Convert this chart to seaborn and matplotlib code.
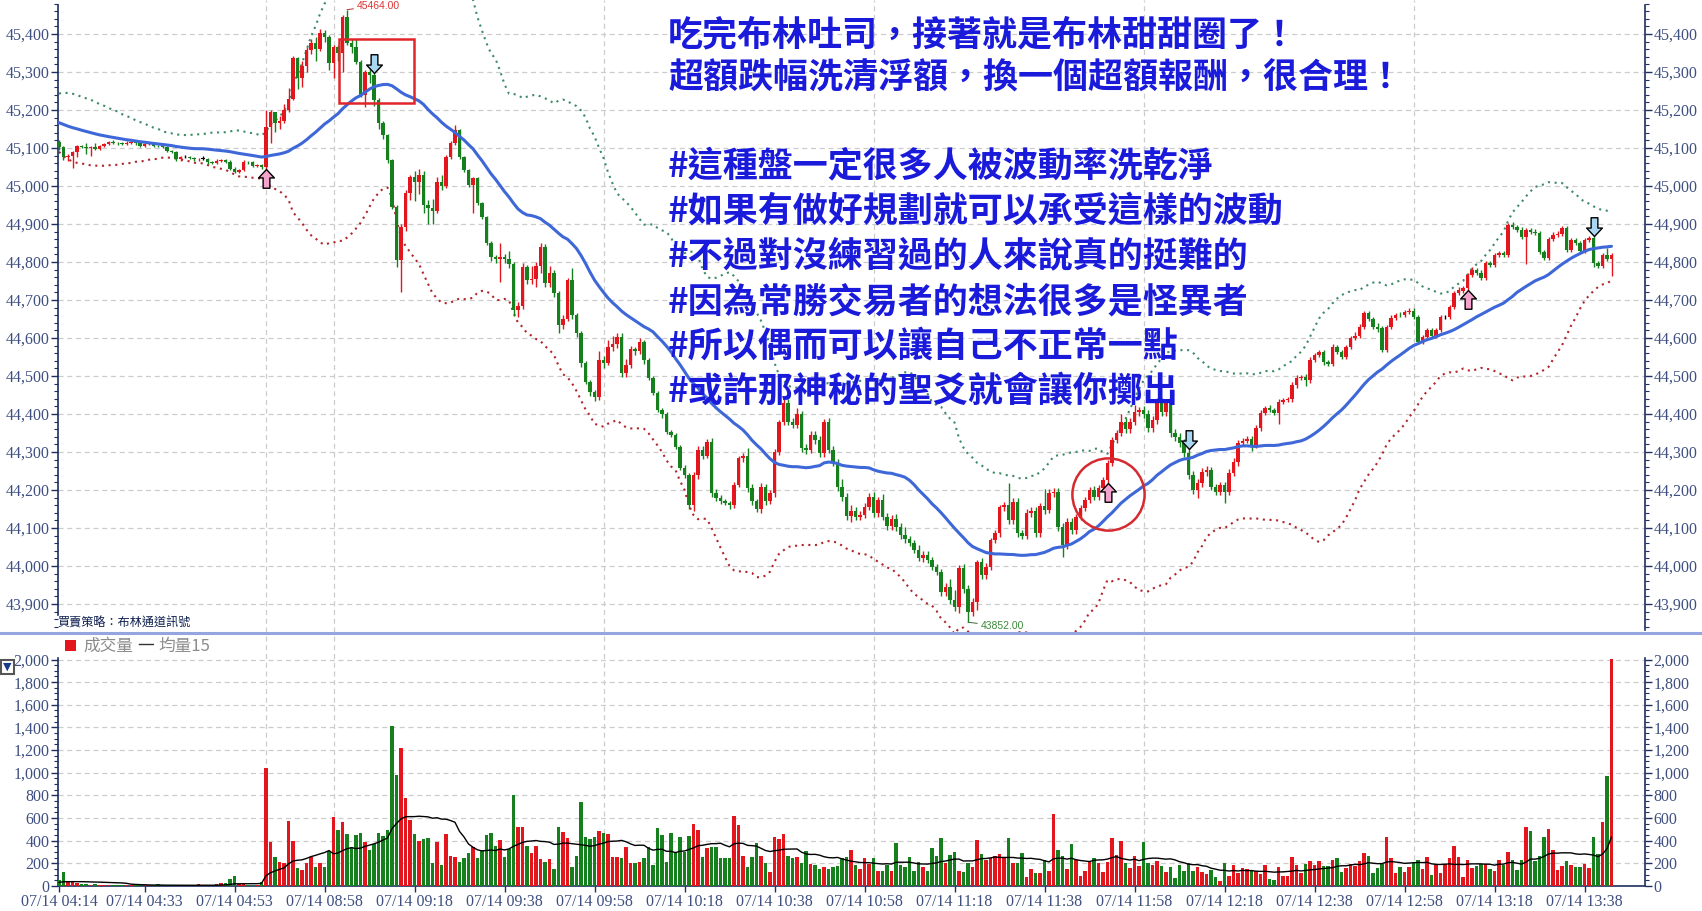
import numpy as np
import pandas as pd
import matplotlib
matplotlib.use("Agg")
import matplotlib.pyplot as plt
import seaborn as sns
from matplotlib.path import Path
from matplotlib.patches import Rectangle
from matplotlib.lines import Line2D
from matplotlib.ticker import FuncFormatter, MultipleLocator, FixedLocator

# ---- datos (1 barra = 1 minuto) ----
first_open = 45116

# sesion nocturna 04:14 - 04:59
night_close = [
    45102, 45076, 45080, 45090, 45104, 45103, 45100, 45102, 45098, 45106,
    45110, 45116, 45114, 45112, 45111, 45114, 45116, 45112, 45106, 45110,
    45111, 45106, 45105, 45102, 45092, 45090, 45070, 45076, 45076, 45074,
    45070, 45072, 45072, 45062, 45060, 45066, 45068, 45064, 45046, 45038,
    45042, 45064, 45062, 45052, 45054, 45050]

# sesion diurna 08:45 - 13:44
day_close = [
    45155, 45195, 45165, 45172, 45200, 45230, 45337, 45285, 45315, 45358,
    45376, 45360, 45402, 45392, 45324, 45366, 45350, 45445, 45376, 45365,
    45326, 45240, 45300, 45292, 45226, 45166, 45134, 45068, 44945, 44805,
    44892, 44982, 45024, 45010, 45030, 44950, 44942, 44935, 45010, 45000,
    45076, 45113, 45147, 45076, 45042, 45003, 45020, 44955, 44918, 44850,
    44813, 44808, 44812, 44808, 44795, 44674, 44685, 44787, 44753, 44755,
    44790, 44840, 44745, 44770, 44718, 44634, 44650, 44753, 44660, 44613,
    44534, 44484, 44458, 44445, 44542, 44535, 44576, 44585, 44603, 44508,
    44530, 44570, 44565, 44589, 44542, 44495, 44455, 44410, 44400, 44353,
    44345, 44313, 44258, 44240, 44161, 44239, 44305, 44290, 44326, 44192,
    44180, 44170, 44166, 44160, 44213, 44284, 44290, 44205, 44170, 44150,
    44208, 44170, 44192, 44300, 44379, 44429, 44380, 44372, 44400, 44311,
    44305, 44345, 44332, 44297, 44379, 44305, 44274, 44208, 44182, 44132,
    44145, 44130, 44135, 44155, 44182, 44139, 44174, 44130, 44105, 44125,
    44103, 44082, 44070, 44060, 44042, 44021, 44030, 44016, 43997, 43984,
    43932, 43945, 43911, 43892, 43995, 43940, 43879, 43905, 44011, 43976,
    43997, 44068, 44087, 44155, 44160, 44121, 44168, 44087, 44080, 44139,
    44145, 44087, 44158, 44147, 44192, 44195, 44103, 44055, 44116, 44095,
    44129, 44153, 44174, 44200, 44182, 44205, 44226, 44271, 44332, 44350,
    44379, 44360, 44380, 44405, 44410, 44400, 44363, 44384, 44432, 44405,
    44430, 44350, 44340, 44324, 44297, 44239, 44200, 44218, 44247, 44253,
    44208, 44195, 44213, 44195, 44245, 44274, 44324, 44330, 44335, 44318,
    44363, 44403, 44416, 44410, 44403, 44432, 44437, 44440, 44476, 44495,
    44497, 44490, 44542, 44555, 44562, 44536, 44532, 44576, 44563, 44550,
    44576, 44600, 44605, 44629, 44666, 44650, 44630, 44625, 44568, 44629,
    44653, 44661, 44660, 44668, 44672, 44655, 44590, 44603, 44621, 44605,
    44621, 44655, 44655, 44682, 44718, 44725, 44732, 44766, 44779, 44772,
    44758, 44797, 44792, 44818, 44824, 44818, 44897, 44892, 44885, 44866,
    44884, 44880, 44876, 44826, 44811, 44860, 44871, 44875, 44889, 44832,
    44858, 44850, 44830, 44858, 44862, 44797, 44790, 44818, 44808, 44818]

# mechas (puntos por encima / por debajo del cuerpo)
night_upper_wick = [
    4, 2, 5, 2, 4, 5, 10, 2, 10, 3, 3, 3, 4, 3, 3, 4, 3, 3, 3, 3,
    3, 3, 3, 3, 3, 4, 3, 3, 6, 3, 3, 3, 6, 3, 3, 4, 3, 3, 4, 3,
    4, 4, 3, 3, 3, 3]
night_lower_wick = [
    7, 8, 10, 33, 14, 3, 16, 20, 3, 3, 3, 3, 3, 3, 3, 3, 3, 3, 3, 3,
    3, 3, 3, 3, 3, 3, 4, 3, 3, 3, 3, 3, 3, 4, 3, 3, 3, 3, 4, 4,
    4, 3, 3, 3, 3, 4]
day_upper_wick = [
    45, 5, 0, 13, 15, 28, 5, 3, 15, 7, 12, 16, 10, 8, 6, 6, 6, 5, 19, 10,
    22, 5, 5, 18, 6, 6, 4, 4, 4, 4, 8, 8, 6, 16, 15, 10, 13, 25, 14, 20,
    5, 6, 13, 3, 4, 4, 5, 4, 4, 4, 6, 5, 38, 10, 20, 6, 10, 10, 5, 35,
    10, 10, 8, 20, 10, 6, 10, 5, 30, 6, 6, 6, 6, 6, 25, 10, 20, 20, 10, 10,
    15, 10, 6, 10, 6, 6, 5, 6, 6, 6, 6, 5, 5, 8, 5, 8, 10, 10, 8, 10,
    10, 6, 6, 6, 8, 6, 8, 20, 10, 6, 10, 8, 8, 8, 6, 10, 10, 10, 15, 8,
    10, 10, 10, 10, 8, 10, 10, 8, 20, 10, 15, 10, 10, 10, 10, 12, 8, 15, 10, 10,
    12, 10, 20, 10, 8, 12, 10, 10, 8, 8, 8, 10, 20, 25, 8, 10, 10, 10, 6, 10,
    10, 6, 8, 6, 8, 58, 10, 10, 8, 10, 10, 10, 8, 45, 10, 10, 10, 10, 10, 10,
    8, 8, 8, 8, 10, 8, 8, 8, 8, 8, 20, 10, 10, 20, 8, 10, 10, 10, 10, 10,
    10, 10, 10, 10, 10, 10, 10, 10, 10, 10, 8, 8, 8, 8, 10, 10, 8, 6, 6, 6,
    8, 8, 6, 8, 6, 8, 6, 6, 8, 8, 6, 8, 8, 6, 6, 6, 6, 8, 6, 6,
    6, 6, 12, 8, 6, 6, 6, 10, 6, 6, 8, 6, 8, 6, 6, 6, 6, 6, 6, 6,
    6, 6, 6, 6, 6, 8, 6, 6, 8, 6, 6, 6, 6, 6, 6, 6, 6, 8, 6, 6,
    6, 6, 8, 6, 6, 6, 8, 6, 6, 6, 6, 6, 6, 6, 6, 6, 6, 6, 20, 6]
day_lower_wick = [
    5, 42, 23, 15, 5, 5, 4, 30, 25, 15, 10, 30, 5, 12, 19, 39, 20, 50, 6, 15,
    6, 5, 32, 22, 16, 16, 9, 8, 5, 18, 84, 10, 20, 50, 30, 20, 42, 35, 6, 10,
    5, 5, 6, 5, 5, 5, 75, 5, 5, 4, 10, 10, 60, 10, 10, 15, 20, 8, 10, 10,
    20, 20, 10, 10, 10, 20, 10, 6, 10, 10, 10, 5, 10, 10, 8, 15, 6, 10, 10, 10,
    10, 10, 10, 8, 10, 6, 6, 6, 10, 6, 6, 6, 6, 8, 10, 15, 10, 8, 6, 10,
    8, 6, 6, 10, 8, 6, 10, 10, 10, 8, 10, 10, 8, 10, 8, 8, 10, 8, 10, 10,
    10, 8, 10, 10, 10, 8, 10, 10, 10, 10, 15, 10, 10, 8, 8, 10, 10, 10, 10, 10,
    10, 10, 10, 8, 8, 8, 10, 8, 8, 8, 10, 10, 12, 10, 15, 10, 27, 10, 20, 10,
    10, 8, 8, 10, 10, 10, 10, 10, 10, 8, 10, 10, 10, 10, 8, 10, 10, 30, 10, 10,
    10, 8, 8, 8, 8, 8, 8, 8, 8, 8, 8, 10, 10, 8, 10, 10, 10, 10, 10, 10,
    10, 10, 10, 10, 10, 10, 10, 20, 10, 10, 8, 8, 8, 30, 8, 8, 10, 8, 6, 15,
    8, 8, 6, 6, 6, 30, 6, 6, 8, 8, 6, 15, 8, 6, 6, 6, 6, 6, 6, 6,
    6, 6, 6, 6, 6, 6, 6, 10, 6, 6, 6, 6, 6, 6, 6, 6, 6, 6, 6, 6,
    6, 6, 6, 6, 6, 6, 6, 6, 6, 6, 6, 6, 6, 6, 6, 6, 6, 6, 6, 6,
    70, 6, 6, 6, 6, 6, 6, 6, 6, 6, 6, 6, 6, 6, 6, 10, 6, 6, 6, 45]

# cierres y volumen previos (fuera de pantalla) solo para arrancar los promedios
warmup_close = [
    45212, 45220, 45205, 45198, 45210, 45195, 45188, 45200, 45192, 45180,
    45185, 45176, 45170, 45182, 45168, 45160, 45172, 45158, 45150, 45162,
    45148, 45140, 45152, 45138, 45130, 45142, 45128, 45120, 45115]
warmup_volume = [30, 25, 35, 30, 28, 32, 30, 26, 34, 30, 28, 30, 32, 30]

night_volume = [
    50, 120, 40, 40, 30, 20, 20, 10, 20, 10, 10, 10, 5, 10, 10, 5, 5, 5, 10, 5,
    5, 5, 15, 5, 5, 10, 5, 5, 5, 5, 5, 15, 5, 5, 5, 15, 30, 30, 60, 90,
    15, 15, 5, 10, 5, 35]
day_volume = [
    1040, 391, 252, 213, 199, 578, 400, 163, 142, 207,
    252, 172, 207, 172, 311, 607, 495, 569, 459, 347,
    453, 465, 385, 320, 370, 468, 444, 495, 1413, 984,
    1221, 779, 587, 459, 400, 412, 421, 204, 385, 187,
    459, 267, 258, 213, 243, 293, 347, 243, 317, 453,
    471, 356, 409, 258, 326, 806, 519, 519, 356, 287,
    356, 237, 213, 237, 154, 519, 480, 421, 172, 261,
    738, 430, 412, 430, 489, 471, 459, 258, 258, 243,
    341, 199, 207, 213, 243, 341, 187, 510, 453, 213,
    468, 293, 430, 296, 444, 548, 495, 258, 332, 341,
    341, 243, 243, 243, 622, 539, 267, 169, 258, 379,
    267, 201, 124, 436, 412, 459, 267, 246, 258, 201,
    308, 193, 187, 148, 172, 148, 172, 178, 243, 252,
    317, 187, 148, 243, 193, 243, 133, 133, 187, 133,
    379, 184, 172, 252, 133, 213, 169, 133, 332, 267,
    421, 199, 276, 302, 133, 124, 199, 172, 409, 281,
    228, 243, 261, 281, 252, 421, 199, 199, 293, 83,
    148, 113, 113, 228, 133, 637, 320, 267, 154, 370,
    228, 89, 133, 222, 246, 199, 127, 213, 421, 273,
    400, 199, 163, 267, 178, 391, 207, 187, 222, 178,
    127, 172, 74, 184, 133, 207, 133, 172, 124, 104,
    139, 80, 44, 201, 89, 187, 119, 157, 148, 133,
    133, 104, 187, 59, 53, 169, 89, 89, 258, 184,
    113, 193, 222, 187, 222, 178, 178, 231, 243, 124,
    163, 193, 178, 222, 290, 267, 119, 163, 193, 430,
    243, 113, 172, 127, 172, 201, 231, 154, 258, 98,
    184, 113, 193, 243, 356, 252, 83, 231, 163, 178,
    193, 193, 148, 133, 231, 184, 302, 231, 142, 231,
    519, 489, 222, 267, 436, 504, 317, 142, 178, 222,
    187, 169, 172, 193, 163, 430, 281, 569, 969, 2006]

tick_bars = [0, 19, 39, 59, 79, 99, 119, 139, 159, 179, 199, 219, 239, 259,
             279, 299, 319, 339]
tick_labels = ["07/14 04:14", "07/14 04:33", "07/14 04:53", "07/14 08:58",
               "07/14 09:18", "07/14 09:38", "07/14 09:58", "07/14 10:18",
               "07/14 10:38", "07/14 10:58", "07/14 11:18", "07/14 11:38",
               "07/14 11:58", "07/14 12:18", "07/14 12:38", "07/14 12:58",
               "07/14 13:18", "07/14 13:38"]
hour_bars = [46, 61, 121, 181, 241, 301]
price_ticks = list(range(43900, 45401, 100))
volume_ticks = list(range(0, 2001, 200))

buy_bars = [46, 233, 313]
sell_bars = [70, 251, 341]
box_bars = (62.2, 78.9)
box_prices = (45218, 45387)
circle_bar = 233.1
circle_price = 44189

note_lines = [
    ("吃完布林吐司，接著就是布林甜甜圈了！", 35),
    ("超額跌幅洗清浮額，換一個超額報酬，很合理！", 78),
    ("#這種盤一定很多人被波動率洗乾淨", 166),
    ("#如果有做好規劃就可以承受這樣的波動", 211),
    ("#不過對沒練習過的人來說真的挺難的", 256),
    ("#因為常勝交易者的想法很多是怪異者", 302),
    ("#所以偶而可以讓自己不正常一點", 346),
    ("#或許那神秘的聖爻就會讓你擲出", 391),
]

# ---- estilo ----
sns.set_theme(style="white")
plt.rcParams['font.family'] = ['Noto Sans CJK TC', 'DejaVu Sans']

UP = '#e3161d'
DOWN = '#17801e'
AXC = '#1f2f5f'
LBL = '#3e4f80'
GRID = '#cccccc'
W, H = 1702, 911

closes = night_close + day_close
volume = night_volume + day_volume
upper_wick = night_upper_wick + day_upper_wick
lower_wick = night_lower_wick + day_lower_wick

n = len(closes)
bars = np.arange(n)
c = np.array(closes, dtype=float)
o = np.array([first_open] + closes[:-1], dtype=float)
hi = np.maximum(o, c) + np.array(upper_wick)
lo = np.minimum(o, c) - np.array(lower_wick)
colors = np.where(c > o, UP, np.where(c < o, DOWN, 'black'))
vol_colors = np.where(c >= o, UP, DOWN)

hist = pd.Series(warmup_close + closes, dtype=float)
k = len(warmup_close)
mid = hist.rolling(30).mean().iloc[k:].to_numpy()
sd = hist.rolling(30).std(ddof=0).iloc[k:].to_numpy()
upper = mid + 2.5 * sd
lower = mid - 2.5 * sd
vhist = pd.Series(warmup_volume + volume, dtype=float)
vol_ma = vhist.rolling(15, min_periods=1).mean().iloc[len(warmup_volume):].to_numpy()

df = pd.DataFrame({'bar': bars, 'mid': mid, 'vol_ma': vol_ma})


def fx(px):
    return px / W


def fy(py):
    return 1 - py / H


fig = plt.figure(figsize=(W / 100, H / 100), dpi=100)
fig.patch.set_facecolor('white')

xlim = ((58 - 59) / 4.5, (1645 - 59) / 4.5)
ax = fig.add_axes([fx(58), fy(632), fx(1645) - fx(58), 632 / H])
ax2 = fig.add_axes([fx(58), fy(886), fx(1645) - fx(58), 250 / H])

# ---- panel de precios ----
ax.set_xlim(*xlim)
ax.set_ylim(45400 - (632 - 34) / 0.38, 45400 + 34 / 0.38)
ax.yaxis.set_major_locator(FixedLocator(price_ticks))
ax.yaxis.set_minor_locator(MultipleLocator(20))
ax.yaxis.grid(True, which='major', ls=(0, (4, 3)), color=GRID, lw=0.9)
for b in hour_bars:
    ax.axvline(b, ls=(0, (4, 3)), color=GRID, lw=0.9, zorder=0)

ax.vlines(bars, lo, hi, colors=colors, lw=1.0, zorder=3)
ax.bar(bars, np.maximum(np.abs(c - o), 1.5), bottom=np.minimum(o, c),
       width=0.68, color=colors, linewidth=0, zorder=4)

ax.plot(bars, upper, color='#3d8a66', lw=1.5, ls=(0, (1, 2.2)), zorder=2)
ax.plot(bars, lower, color='#b0262c', lw=1.5, ls=(0, (1, 2.2)), zorder=2)
sns.lineplot(data=df, x='bar', y='mid', ax=ax, color='#3e67d8', lw=2.2,
             zorder=5)

# flechas de senal
up_arrow = Path([(0, 0), (0.42, -0.45), (0.18, -0.45), (0.18, -1.0),
                 (-0.18, -1.0), (-0.18, -0.45), (-0.42, -0.45), (0, 0)],
                [Path.MOVETO] + [Path.LINETO] * 6 + [Path.CLOSEPOLY])
down_arrow = Path([(x, -y) for x, y in up_arrow.vertices], up_arrow.codes)
ax.plot(buy_bars, lo[buy_bars], ls='none', marker=up_arrow, ms=27,
        mfc='#f4a3cc', mec='black', mew=1.0, zorder=7)
ax.plot(sell_bars, hi[sell_bars], ls='none', marker=down_arrow, ms=27,
        mfc='#a9d7f2', mec='black', mew=1.0, zorder=7)

ax.add_patch(Rectangle((box_bars[0], box_prices[0]), box_bars[1] - box_bars[0],
                       box_prices[1] - box_prices[0], fill=False,
                       ec='#e0262a', lw=1.8, zorder=8))
ax.plot([circle_bar], [circle_price], marker='o', ms=52, mfc='none',
        mec='#d42a30', mew=1.8, zorder=8)

i_hi = int(np.argmax(hi))
i_lo = int(np.argmin(lo))
ax.annotate(f"{hi[i_hi]:.2f}", xy=(i_hi, hi[i_hi]), xytext=(7, 3),
            textcoords='offset points', va='center', ha='left',
            fontsize=7.5, color='#e03434', family='Liberation Sans',
            arrowprops=dict(arrowstyle='-', color='#b03030', lw=0.7,
                            shrinkA=0, shrinkB=0), zorder=9)
ax.annotate(f"{lo[i_lo]:.2f}", xy=(i_lo, lo[i_lo]), xytext=(9, -3),
            textcoords='offset points', va='center', ha='left',
            fontsize=7.5, color='#3a8a3a', family='Liberation Sans',
            arrowprops=dict(arrowstyle='-', color='#3a6a3a', lw=0.7,
                            shrinkA=0, shrinkB=0), zorder=9)

fmt = FuncFormatter(lambda v, p: f"{v:,.0f}")
ax.yaxis.set_major_formatter(fmt)
ax.tick_params(axis='y', which='both', left=True, right=True, labelleft=True,
               labelright=True, direction='out', color=AXC, labelcolor=LBL,
               labelsize=11.5, pad=1, labelfontfamily='Liberation Serif')
ax.tick_params(axis='y', which='major', length=5, width=1)
ax.tick_params(axis='y', which='minor', length=3, width=0.8)
ax.set_xticks([])
ax.set_xlabel('')
ax.set_ylabel('')
for s in ['top', 'bottom']:
    ax.spines[s].set_visible(False)
for s in ['left', 'right']:
    ax.spines[s].set_color(AXC)
    ax.spines[s].set_linewidth(1.2)
ax.spines['left'].set_bounds(45400 - (615 - 34) / 0.38, 45400 + 29 / 0.38)
ax.spines['right'].set_bounds(45400 - (630 - 34) / 0.38, 45400 + 29 / 0.38)

# ---- panel de volumen ----
ax2.set_xlim(*xlim)
ax2.set_ylim(0, 2000 + (659.5 - 636) / (226.5 / 2000))
ax2.yaxis.set_major_locator(FixedLocator(volume_ticks))
ax2.yaxis.set_minor_locator(FixedLocator(list(range(0, 2001, 50))))
ax2.yaxis.grid(True, which='major', ls=(0, (4, 3)), color=GRID, lw=0.9)
for b in hour_bars:
    ax2.axvline(b, ls=(0, (4, 3)), color=GRID, lw=0.9, zorder=0)
ax2.bar(bars, volume, width=0.68, color=vol_colors, linewidth=0, zorder=3)
sns.lineplot(data=df, x='bar', y='vol_ma', ax=ax2, color='black', lw=1.0,
             zorder=4)
ax2.yaxis.set_major_formatter(fmt)
ax2.set_xticks(tick_bars)
ax2.set_xticklabels(tick_labels)
ax2.tick_params(axis='y', which='both', left=True, right=True, labelleft=True,
                labelright=True, direction='out', color=AXC, labelcolor=LBL,
                labelsize=11.5, pad=1, labelfontfamily='Liberation Serif')
ax2.tick_params(axis='y', which='major', length=5, width=1)
ax2.tick_params(axis='y', which='minor', length=3, width=0.8)
ax2.tick_params(axis='x', bottom=True, direction='out', length=4, width=1,
                color=AXC, labelcolor=LBL, labelsize=11.5, pad=2,
                labelfontfamily='Liberation Serif')
ax2.set_xlabel('')
ax2.set_ylabel('')
ax2.spines['top'].set_visible(False)
for s in ['left', 'right', 'bottom']:
    ax2.spines[s].set_color(AXC)
    ax2.spines[s].set_linewidth(1.2)
ax2.spines['left'].set_bounds(0, 2010)
ax2.spines['right'].set_bounds(0, 2010)

# ---- textos y adornos de la figura ----
fig.add_artist(Line2D([0, 1], [fy(632.5), fy(632.5)], color='#94a5df', lw=2.2))

for line, ypx in note_lines:
    fig.text(fx(668), fy(ypx), line, fontsize=25.2, color='#1a1adb',
             ha='left', va='center', fontweight='bold', zorder=10)

fig.text(fx(57), fy(623), "買賣策略：布林通道訊號", fontsize=8.7,
         color='#0e1f4e', ha='left', va='center')

fig.add_artist(Rectangle((fx(65), fy(651)), 11 / W, 11 / H,
                         transform=fig.transFigure, color=UP, lw=0))
fig.text(fx(83), fy(646), "成交量", fontsize=12, color='#8c8c8c',
         ha='left', va='center')
fig.text(fx(137), fy(646), "一", fontsize=12, color='#333333',
         ha='left', va='center')
fig.text(fx(158), fy(646), "均量15", fontsize=12, color='#8c8c8c',
         ha='left', va='center')

fig.add_artist(Rectangle((fx(1), fy(674)), 13 / W, 14 / H,
                         transform=fig.transFigure, fc='white', ec='#555555',
                         lw=1.5))
fig.text(fx(7.5), fy(666.5), "▼", fontsize=8, color='#1a3a8a',
         ha='center', va='center', family='DejaVu Sans')

fig.savefig('out.png', dpi=100, facecolor='white')
